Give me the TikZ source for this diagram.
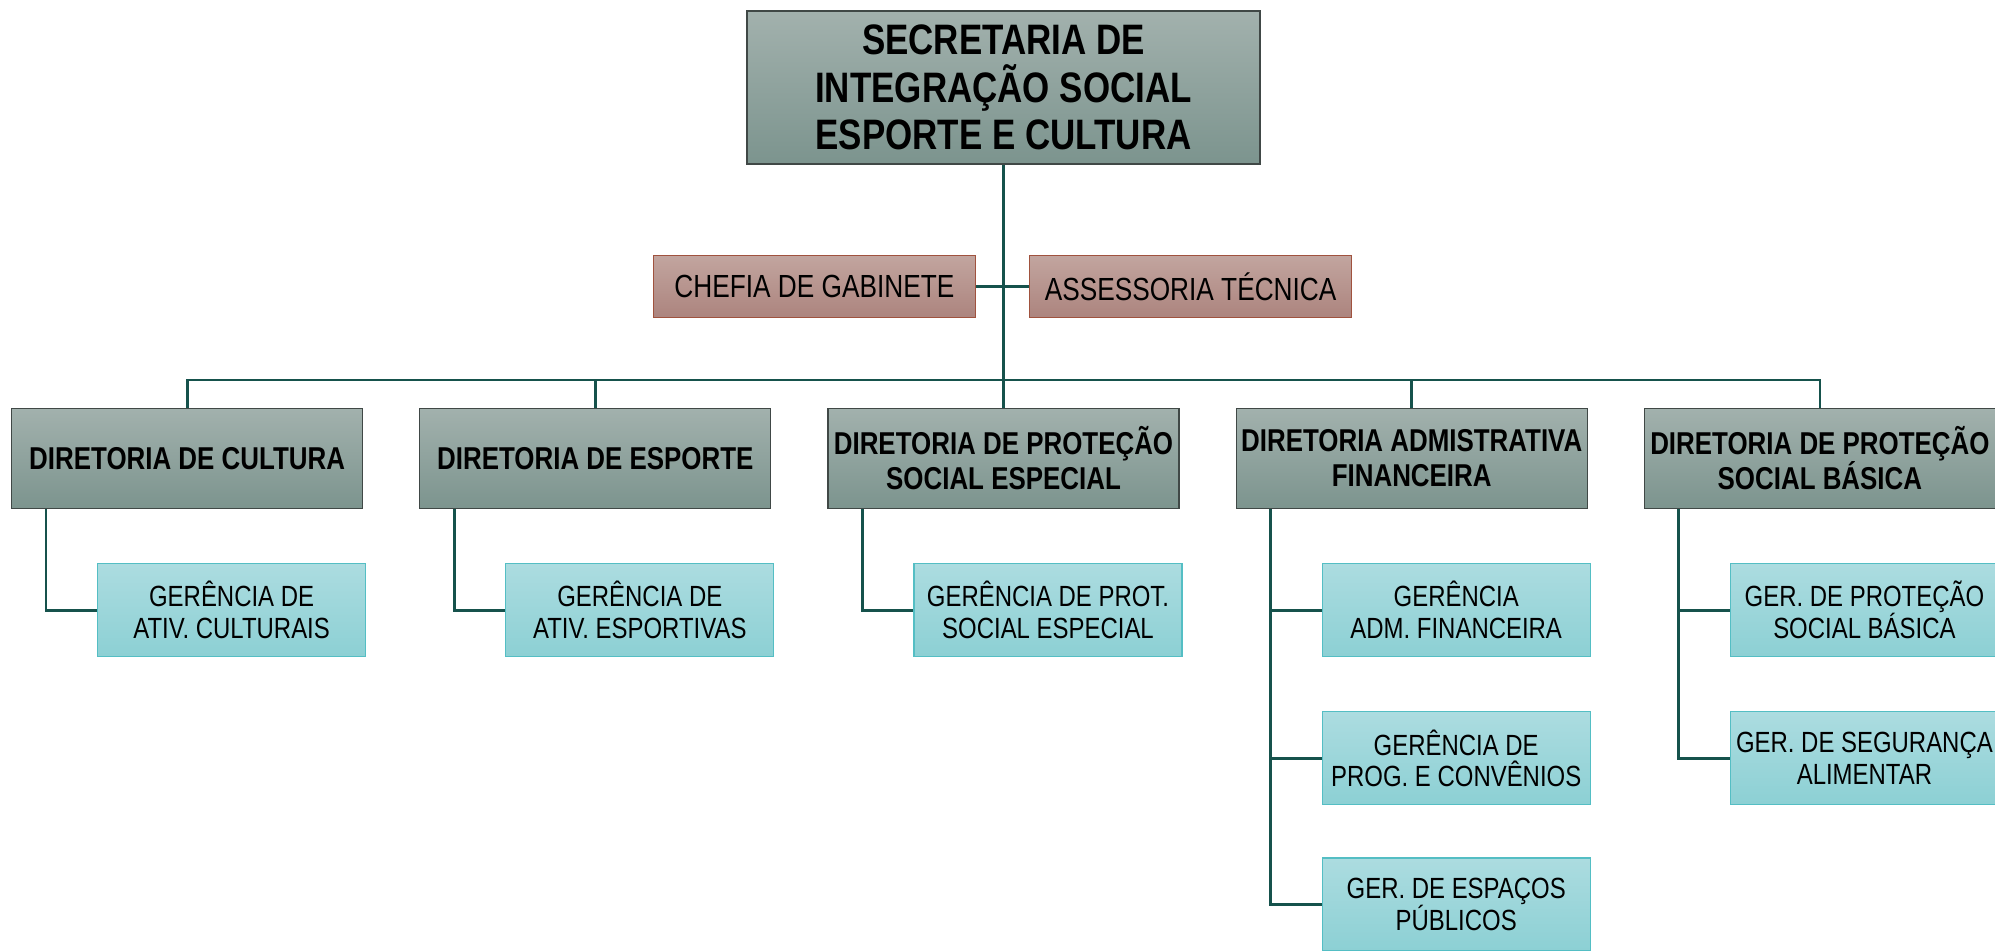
\documentclass[tikz,border=0pt]{standalone}
\usepackage{fontspec}
\setmainfont[FakeStretch=0.82]{Liberation Sans}
\usetikzlibrary{positioning}
\definecolor{dirtop}{RGB}{162,177,173}
\definecolor{dirbot}{RGB}{124,148,142}
\definecolor{dirline}{RGB}{64,72,70}
\definecolor{gabtop}{RGB}{194,165,159}
\definecolor{gabbot}{RGB}{172,132,126}
\definecolor{gabline}{RGB}{160,82,62}
\definecolor{gertop}{RGB}{172,220,224}
\definecolor{gerbot}{RGB}{140,208,212}
\definecolor{gerline}{RGB}{84,190,196}
\definecolor{linkcol}{RGB}{22,82,76}
\tikzset{
     topblock/.style={
           rectangle,
           draw=dirline, line width=0.8pt,
           top color=dirtop, bottom color=dirbot,
           minimum width=256.5pt,
           minimum height=76.5pt,
           inner sep=1pt,
           align=center,
           font=\fontsize{21.3}{23.8}\selectfont\bfseries,
           },
     dirblock/.style={
           rectangle,
           draw=dirline, line width=0.6pt,
           top color=dirtop, bottom color=dirbot,
           minimum width=175.5pt,
           minimum height=50pt,
           inner sep=1pt,
           align=center,
           font=\fontsize{15.8}{17.5}\selectfont\bfseries,
           },
     gabblock/.style={
           rectangle,
           draw=gabline, line width=0.6pt,
           top color=gabtop, bottom color=gabbot,
           minimum width=161pt,
           minimum height=31pt,
           inner sep=1pt,
           align=center,
           font=\fontsize{16}{18}\selectfont,
           },
     gerblock/.style={
           rectangle,
           draw=gerline, line width=0.6pt,
           top color=gertop, bottom color=gerbot,
           minimum width=134pt,
           minimum height=46.5pt,
           inner sep=1pt,
           align=center,
           font=\fontsize{14.6}{15.8}\selectfont,
           },
     link/.style={draw=linkcol, line width=1.4pt},
}
\begin{document}
\begin{tikzpicture}
	\useasboundingbox (0,0) rectangle (997.5pt,-475pt);
	\node[topblock] (sec) at (501.75pt,-43.75pt) {SECRETARIA DE\\INTEGRAÇÃO SOCIAL\\ESPORTE E CULTURA};
	\node[gabblock, below=45pt of sec.south, anchor=north east, xshift=-13.75pt] (chefia) {CHEFIA DE GABINETE};
	\node[gabblock, below=45pt of sec.south, anchor=north west, xshift=12.75pt] (assess) {ASSESSORIA TÉCNICA};

	% diretorias
	\node[dirblock, below=121.5pt of sec] (dpse) {DIRETORIA DE PROTEÇÃO\\SOCIAL ESPECIAL};
	\node[dirblock, left=28pt of dpse] (desp) {DIRETORIA DE ESPORTE};
	\node[dirblock, left=28pt of desp] (dcult) {DIRETORIA DE CULTURA};
	\node[dirblock, right=28pt of dpse] (dadm) {DIRETORIA ADMISTRATIVA\\FINANCEIRA};
	\node[dirblock, right=28pt of dadm] (dpsb) {DIRETORIA DE PROTEÇÃO\\SOCIAL BÁSICA};

	% gerencias
	\node[gerblock, below=27pt of dcult.south west, anchor=north west, xshift=43pt] (gcult) {GERÊNCIA DE\\ATIV. CULTURAIS};
	\node[gerblock, below=27pt of desp.south west, anchor=north west, xshift=43pt] (gesp) {GERÊNCIA DE\\ATIV. ESPORTIVAS};
	\node[gerblock, below=27pt of dpse.south west, anchor=north west, xshift=43pt] (gpse) {GERÊNCIA DE PROT.\\SOCIAL ESPECIAL};
	\node[gerblock, below=27pt of dadm.south west, anchor=north west, xshift=43pt] (gadm) {GERÊNCIA\\ADM. FINANCEIRA};
	\node[gerblock, below=27pt of gadm] (gprog) {GERÊNCIA DE\\PROG. E CONVÊNIOS};
	\node[gerblock, below=26pt of gprog] (gpub) {GER. DE ESPAÇOS\\PÚBLICOS};
	\node[gerblock, below=27pt of dpsb.south west, anchor=north west, xshift=43pt] (gpsb) {GER. DE PROTEÇÃO\\SOCIAL BÁSICA};
	\node[gerblock, below=27pt of gpsb] (gseg) {GER. DE SEGURANÇA\\ALIMENTAR};

	\coordinate (bus) at (0,-190pt);
	\draw[link] (sec.south) -- (sec.south |- bus);
	\draw[link] (chefia) -- (assess);
	\draw[link] (dcult.north) -- (dcult.north |- bus) -- (dpsb.north |- bus) -- (dpsb.north);
	\foreach \d in {desp,dpse,dadm}
		\draw[link] (\d.north) -- (\d.north |- bus);
	\foreach \d/\g in {dcult/gcult, desp/gesp, dpse/gpse, dadm/gadm, dadm/gprog, dadm/gpub, dpsb/gpsb, dpsb/gseg}
		\draw[link] ([xshift=17.5pt]\d.south west) |- (\g.west);
\end{tikzpicture}
\end{document}
